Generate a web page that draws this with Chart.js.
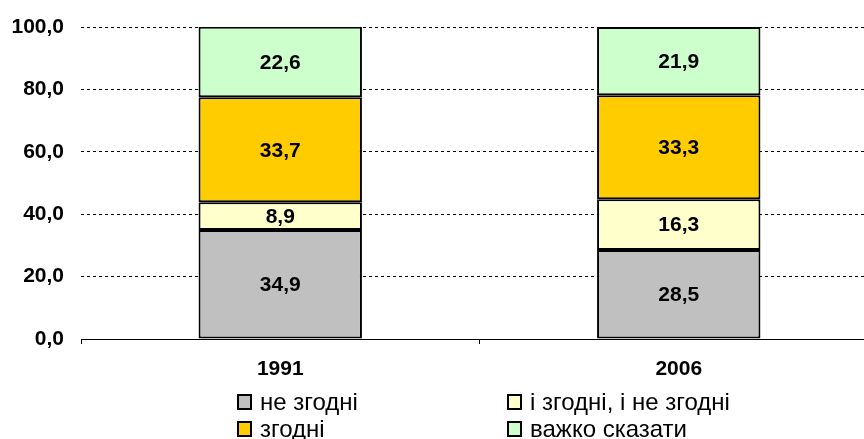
<!DOCTYPE html>
<html>
<head>
<meta charset="utf-8">
<script src="https://cdn.jsdelivr.net/npm/chart.js@4/dist/chart.umd.min.js"></script>
<style>
  html, body { margin: 0; padding: 0; background: #fff; overflow: hidden; }
  #wrap { position: relative; width: 864px; height: 439px; overflow: hidden; }
  #chart-box { position: absolute; left: 0; top: 0; width: 880px; height: 439px; }
  .legend { position: absolute; left: 0; top: 0; font-family: "Liberation Sans", Arial, sans-serif; font-size: 24px; color: #000; }
  .legend .item { position: absolute; white-space: nowrap; line-height: 24px; }
  .legend .sw { position: absolute; left: 0; top: 4px; width: 11px; height: 12px; border: 2px solid #000; }
  .legend .tx { position: absolute; left: 23px; top: 0; }
</style>
</head>
<body>
<div id="wrap">
  <div id="chart-box"><canvas id="c" width="880" height="439"></canvas></div>
  <div class="legend" id="legend"></div>
</div>
<script>
// stacked shares, %, bottom to top
const years = ['1991', '2006'];
const notAgree = [34.9, 28.5];
const both = [8.9, 16.3];
const agree = [33.7, 33.3];
const hardToSay = [22.6, 21.9];
const yTicks = [0, 20, 40, 60, 80, 100];

const seriesNames = ['не згодні', 'і згодні, і не згодні', 'згодні', 'важко сказати'];
const seriesColors = ['#C0C0C0', '#FFFFCC', '#FFCC00', '#CCFFCC'];
const seriesData = [notAgree, both, agree, hardToSay];

const FONT = '"Liberation Sans", Arial, sans-serif';
const fmt = (v) => v.toFixed(1).replace('.', ',');

// value labels in the middle of each segment
const segmentLabels = {
  id: 'segmentLabels',
  afterDatasetsDraw(chart) {
    const ctx = chart.ctx;
    ctx.save();
    ctx.font = `bold 21px ${FONT}`;
    ctx.fillStyle = '#000';
    ctx.textAlign = 'center';
    ctx.textBaseline = 'middle';
    chart.data.datasets.forEach((ds, di) => {
      chart.getDatasetMeta(di).data.forEach((bar, i) => {
        const { x, y, base } = bar.getProps(['x', 'y', 'base'], true);
        ctx.fillText(fmt(ds.data[i]), x, (y + base) / 2 + 1);
      });
    });
    ctx.restore();
  },
};

new Chart(document.getElementById('c'), {
  type: 'bar',
  data: {
    labels: years,
    datasets: seriesData.map((d, i) => ({
      label: seriesNames[i],
      data: d,
      backgroundColor: seriesColors[i],
      borderColor: '#000',
      borderWidth: 2,
      borderSkipped: false,
      categoryPercentage: 1,
      barPercentage: 0.41,
    })),
  },
  options: {
    responsive: false,
    animation: false,
    layout: { padding: { top: 27, right: 2, left: 0, bottom: 0 } },
    plugins: { legend: { display: false }, tooltip: { enabled: false } },
    scales: {
      x: {
        stacked: true,
        grid: { drawOnChartArea: false, drawTicks: true, tickLength: 5, color: '#000', offset: true },
        border: { color: '#000', width: 1 },
        ticks: { color: '#000', font: { family: FONT, size: 21, weight: 'bold' }, padding: 13 },
        afterFit: (s) => { s.height = 100; },
      },
      y: {
        stacked: true,
        min: 0,
        max: 100,
        afterBuildTicks: (s) => { s.ticks = yTicks.map((v) => ({ value: v })); },
        grid: { color: '#000', lineWidth: 1, drawTicks: false },
        border: { display: false, dash: [3, 3] },
        ticks: { color: '#000', font: { family: FONT, size: 21, weight: 'bold' }, padding: 17, callback: (v) => fmt(v) },
        afterFit: (s) => { s.width = 81; s.paddingTop = 0; s.paddingBottom = 0; },
      },
    },
  },
  plugins: [segmentLabels],
});

// legend: two columns, filled row by row in series order
const legendPos = [[237, 390], [507, 390], [237, 417], [507, 417]];
document.getElementById('legend').innerHTML = seriesNames.map((n, i) =>
  `<div class="item" style="left:${legendPos[i][0]}px;top:${legendPos[i][1]}px">` +
  `<span class="sw" style="background:${seriesColors[i]}"></span><span class="tx">${n}</span></div>`
).join('');
</script>
</body>
</html>
